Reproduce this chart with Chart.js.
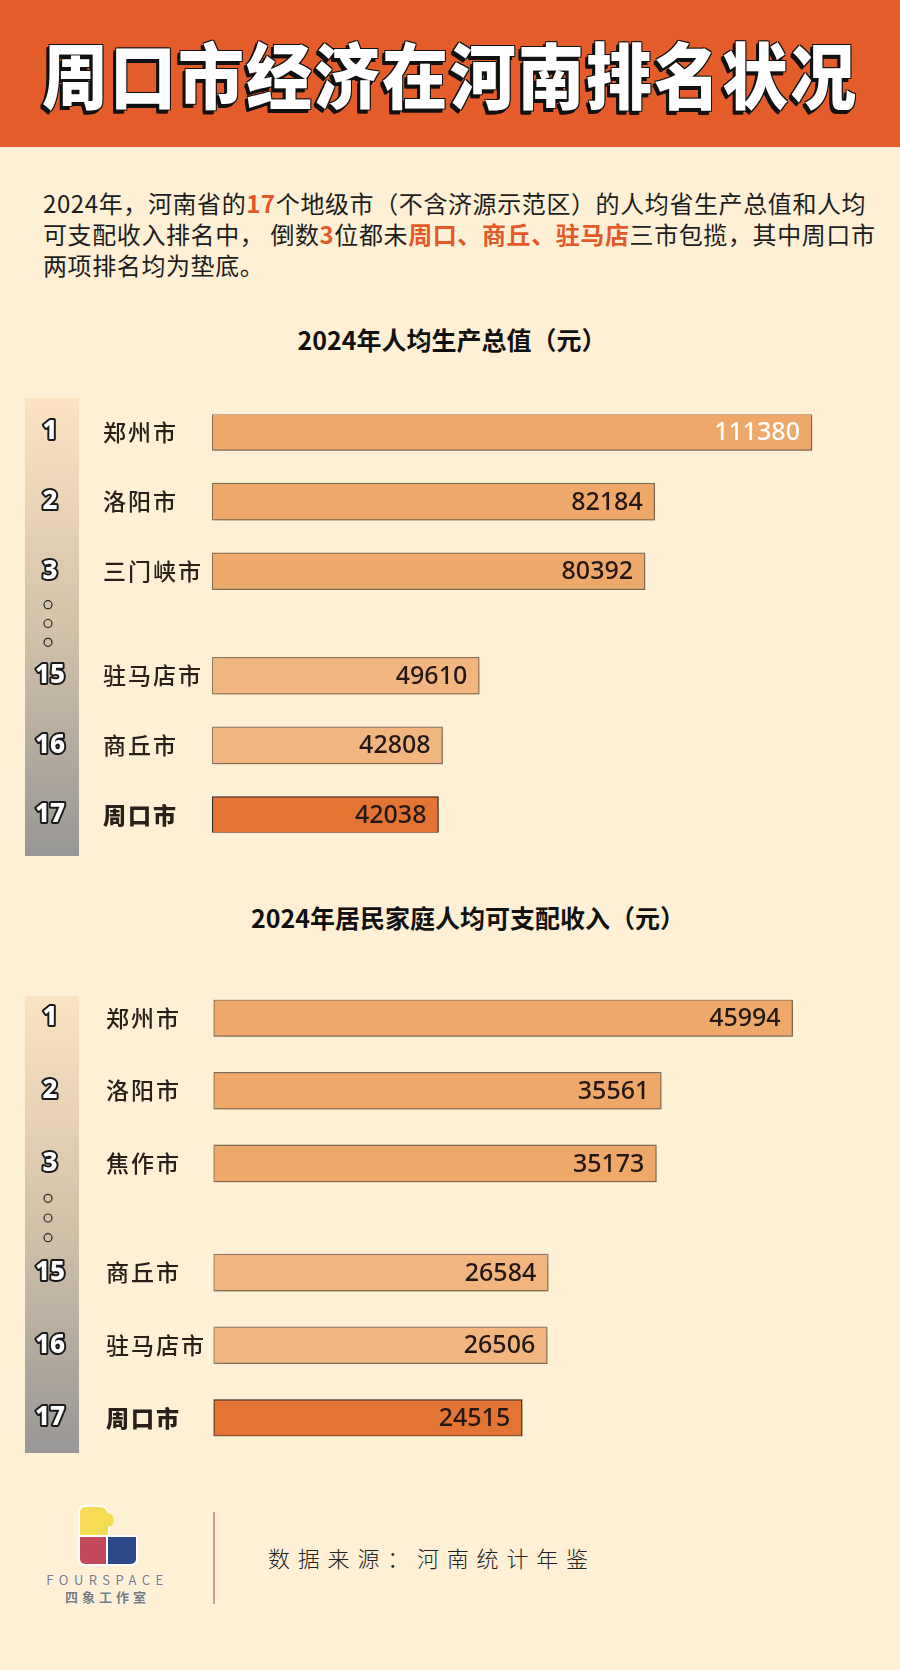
<!DOCTYPE html>
<html lang="zh">
<head>
<meta charset="utf-8">
<script src="https://cdn.jsdelivr.net/npm/chart.js@4.4.1/dist/chart.umd.min.js"></script>
<style>
  html, body { margin: 0; padding: 0; }
  body {
    width: 900px; height: 1670px; position: relative; overflow: hidden;
    background: #fdf0d5; font-family: "Noto Sans CJK SC", sans-serif; color: #1d1d1d;
  }
  .header { position: absolute; left: 0; top: 0; width: 900px; height: 147px; background: #e35c29; }
  .header h1 {
    margin: 0; position: absolute; left: 0; top: 22px; width: 900px; text-align: center;
    font-size: 66px; line-height: 100px; font-weight: 900; letter-spacing: 2px; color: #fff;
    transform: scaleY(1.08);
    text-shadow: -1px -1px 0 #111, 1px -1px 0 #111, -1px 1px 0 #111, 1px 1px 0 #111,
                 -3px 3px 0 #111, -2px 3px 0 #111, -3px 2px 0 #111;
  }
  .intro {
    position: absolute; left: 43px; top: 187px; white-space: nowrap;
    font-size: 24px; line-height: 31px; letter-spacing: 0.6px; color: #1d1d1d;
  }
  .intro b { color: #e35a28; font-weight: 700; }
  .ctitle {
    position: absolute; width: 600px; text-align: center;
    font-size: 25px; line-height: 32px; font-weight: 700; color: #111;
  }
  canvas { position: absolute; left: 0; }
  .vline { position: absolute; left: 213px; top: 1512px; width: 2px; height: 92px; background: #c9a08c; }
  .source {
    position: absolute; left: 268px; top: 1541px; font-size: 22px; line-height: 32px;
    letter-spacing: 7.8px; font-weight: 300; color: #222; white-space: nowrap;
  }
  .logo div { position: absolute; box-shadow: 0 0 0 2px #fff; }
  .brand {
    position: absolute; left: 40px; width: 135px; text-align: center; white-space: nowrap;
    color: #7a7a7a; text-shadow: 0 0 2px #fff, 0 0 2px #fff;
  }
</style>
</head>
<body>
<div class="header"><h1>周口市经济在河南排名状况</h1></div>

<div class="intro">
  2024年，河南省的<b>17</b>个地级市（不含济源示范区）的人均省生产总值和人均<br>
  可支配收入排名中， 倒数<b>3</b>位都未<b>周口、商丘、驻马店</b>三市包揽，其中周口市<br>
  两项排名均为垫底。
</div>

<div class="ctitle" style="left:152px; top:323px;">2024年人均生产总值（元）</div>
<canvas id="gdpChart" width="900" height="490" style="top:380px;"></canvas>

<div class="ctitle" style="left:168px; top:901px;">2024年居民家庭人均可支配收入（元）</div>
<canvas id="incomeChart" width="900" height="490" style="top:980px;"></canvas>

<div class="logo">
  <div style="left:80px; top:1507px; width:28px; height:30px; background:#f6dc55; border-radius:5px 8px 0 0;"></div>
  <div style="left:100px; top:1513px; width:14px; height:14px; background:#f6dc55; border-radius:50%; box-shadow:none;"></div>
  <div style="left:80px; top:1537px; width:28px; height:27px; background:#c44a5b; border-radius:0 0 0 5px;"></div>
  <div style="left:108px; top:1537px; width:28px; height:27px; background:#2c4a8a; border-radius:0 0 5px 0;"></div>
</div>
<div class="brand" style="top:1570px; font-size:13px; letter-spacing:5.5px;">FOURSPACE</div>
<div class="brand" style="top:1587px; font-size:13px; letter-spacing:4px; font-weight:700;">四象工作室</div>
<div class="vline"></div>
<div class="source">数据来源：河南统计年鉴</div>

<script>
const ranks = ["1", "2", "3", "15", "16", "17"];

const gdpCities = ["郑州市", "洛阳市", "三门峡市", "驻马店市", "商丘市", "周口市"];
const gdpValues = [111380, 82184, 80392, 49610, 42808, 42038];

const incomeCities = ["郑州市", "洛阳市", "焦作市", "商丘市", "驻马店市", "周口市"];
const incomeValues = [45994, 35561, 35173, 26584, 26506, 24515];

// 样式 (每一行)
const rowFill = ["#eea96a", "#eea96a", "#eea96a", "#f1b680", "#f1b680", "#e47434"];
const rowBorder = ["#7f6e5c", "#7f6e5c", "#7f6e5c", "#8c7862", "#8c7862", "#2c2521"];

// 第3名和第15名之间多留一格，给省略号
const spread = (arr) => {
  const out = [];
  arr.forEach((v, i) => {
    out.push(v);
    if (i < arr.length - 1) out.push(null);
    if (i === 2) out.push(null);
  });
  return out;
};

const rankPlugin = (cities, values, opt) => ({
  id: "rankSide",
  beforeDatasetsDraw(chart) {
    const ctx = chart.ctx;
    const y = chart.scales.y;
    const slotRanks = spread(ranks);
    const slotCities = spread(cities);

    // 左边的渐变竖条
    const g = ctx.createLinearGradient(0, opt.colTop, 0, opt.colBottom);
    g.addColorStop(0, "#fce3c1");
    g.addColorStop(0.5, "#d3c2a9");
    g.addColorStop(1, "#989796");
    ctx.save();
    ctx.fillStyle = g;
    ctx.fillRect(25, opt.colTop, 54, opt.colBottom - opt.colTop);

    const pys = [];
    slotRanks.forEach((r, k) => {
      if (r === null) return;
      const py = y.getPixelForValue(k);
      pys.push(py);
      // 排名数字 白字黑边
      ctx.letterSpacing = "0px";
      ctx.font = '800 26px "Noto Sans", sans-serif';
      ctx.textAlign = "center";
      ctx.textBaseline = "middle";
      ctx.lineJoin = "round";
      ctx.lineWidth = 4;
      ctx.strokeStyle = "#1a1a1a";
      ctx.strokeText(r, 50, py);
      ctx.fillStyle = "#fff";
      ctx.fillText(r, 50, py);
      // 城市名
      const last = r === "17";
      ctx.letterSpacing = "2px";
      ctx.font = (last ? "900 " : "500 ") + '23px "Noto Sans CJK SC", sans-serif';
      ctx.textAlign = "left";
      ctx.fillStyle = "#2a201a";
      ctx.fillText(slotCities[k], opt.nameX, py);
    });
    ctx.letterSpacing = "0px";

    // 省略号 ○○○
    const y3 = pys[2], y15 = pys[3];
    [0.32, 0.5, 0.68].forEach((f) => {
      ctx.beginPath();
      ctx.arc(48, y3 + (y15 - y3) * f, 4, 0, Math.PI * 2);
      ctx.lineWidth = 1.2;
      ctx.strokeStyle = "#2a2a2a";
      ctx.stroke();
    });
    ctx.restore();
  },
  beforeDatasetDraw(chart) {
    const ctx = chart.ctx;
    ctx.save();
    ctx.shadowColor = "rgba(110, 80, 40, 0.38)";
    ctx.shadowBlur = 9;
    ctx.shadowOffsetX = 3;
    ctx.shadowOffsetY = 5;
  },
  afterDatasetDraw(chart) {
    chart.ctx.restore();
  },
  afterDatasetsDraw(chart) {
    const ctx = chart.ctx;
    const meta = chart.getDatasetMeta(0);
    const slots = spread(values);
    let row = 0;
    ctx.save();
    ctx.font = '500 25px "Noto Sans", sans-serif';
    ctx.textAlign = "right";
    ctx.textBaseline = "middle";
    meta.data.forEach((bar, k) => {
      if (slots[k] === null) return;
      ctx.fillStyle = opt.labelColors[row] || "#231815";
      ctx.fillText(String(slots[k]), bar.x - 12, bar.y + 1);
      row++;
    });
    ctx.restore();
  },
});

const makeRankChart = (id, cities, values, opt) => {
  const canvas = document.getElementById(id);
  return new Chart(canvas, {
    type: "bar",
    data: {
      labels: spread(cities).map((c) => c || ""),
      datasets: [
        {
          data: spread(values),
          backgroundColor: spread(rowFill),
          borderColor: spread(rowBorder),
          borderWidth: 1.3,
          borderSkipped: false,
          barThickness: 37,
        },
      ],
    },
    options: {
      indexAxis: "y",
      responsive: false,
      animation: false,
      layout: { padding: opt.padding },
      scales: {
        x: { display: false, min: 0, max: opt.max },
        y: { display: false },
      },
      plugins: {
        legend: { display: false },
        tooltip: { enabled: false },
      },
    },
    plugins: [rankPlugin(cities, values, opt)],
  });
};

makeRankChart("gdpChart", gdpCities, gdpValues, {
  max: 120000,
  padding: { left: 212, right: 41.6, top: 34.6, bottom: 37.6 },
  colTop: 18,
  colBottom: 476,
  nameX: 103,
  labelColors: ["#ffffff"],
});

makeRankChart("incomeChart", incomeCities, incomeValues, {
  max: 50000,
  padding: { left: 213.5, right: 56.9, top: 19.8, bottom: 33.8 },
  colTop: 16,
  colBottom: 473,
  nameX: 106,
  labelColors: [],
});
</script>
</body>
</html>
